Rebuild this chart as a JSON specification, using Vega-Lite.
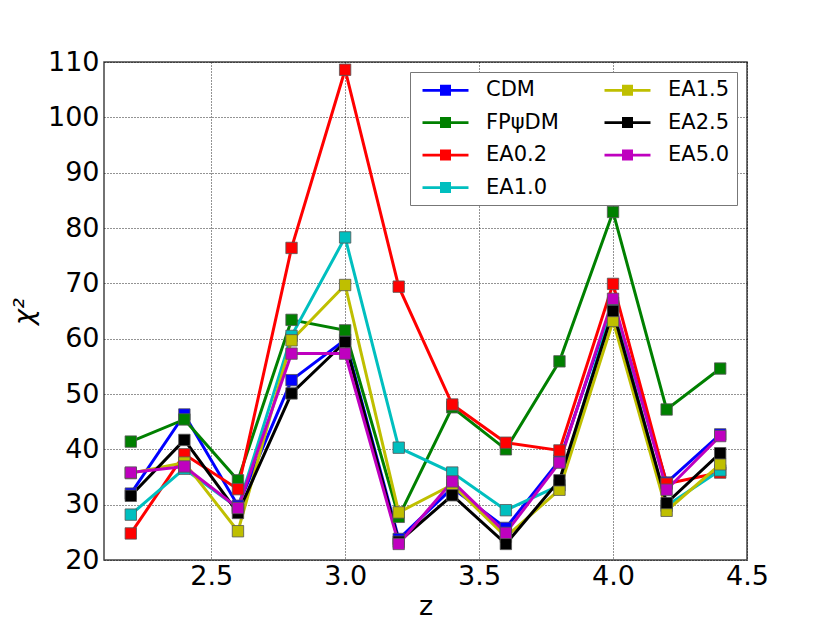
{
  "$schema": "https://vega.github.io/schema/vega-lite/v6.json",
  "width": 643,
  "height": 498,
  "autosize": "none",
  "padding": {"left": 104, "top": 62, "right": 83, "bottom": 63},
  "background": "white",
  "data": {
    "values": [
      {"z": 2.2, "series": "CDM", "chi2": 32.0},
      {"z": 2.4, "series": "CDM", "chi2": 46.3},
      {"z": 2.6, "series": "CDM", "chi2": 29.8},
      {"z": 2.8, "series": "CDM", "chi2": 52.5},
      {"z": 3.0, "series": "CDM", "chi2": 59.8},
      {"z": 3.2, "series": "CDM", "chi2": 23.8},
      {"z": 3.4, "series": "CDM", "chi2": 33.0},
      {"z": 3.6, "series": "CDM", "chi2": 25.8},
      {"z": 3.8, "series": "CDM", "chi2": 38.0},
      {"z": 4.0, "series": "CDM", "chi2": 66.5},
      {"z": 4.2, "series": "CDM", "chi2": 34.0},
      {"z": 4.4, "series": "CDM", "chi2": 42.7},
      {"z": 2.2, "series": "FPψDM", "chi2": 41.4},
      {"z": 2.4, "series": "FPψDM", "chi2": 45.4},
      {"z": 2.6, "series": "FPψDM", "chi2": 34.4},
      {"z": 2.8, "series": "FPψDM", "chi2": 63.4},
      {"z": 3.0, "series": "FPψDM", "chi2": 61.5},
      {"z": 3.2, "series": "FPψDM", "chi2": 27.8},
      {"z": 3.4, "series": "FPψDM", "chi2": 47.6},
      {"z": 3.6, "series": "FPψDM", "chi2": 40.0},
      {"z": 3.8, "series": "FPψDM", "chi2": 55.9},
      {"z": 4.0, "series": "FPψDM", "chi2": 82.9},
      {"z": 4.2, "series": "FPψDM", "chi2": 47.2},
      {"z": 4.4, "series": "FPψDM", "chi2": 54.6},
      {"z": 2.2, "series": "EA0.2", "chi2": 24.8},
      {"z": 2.4, "series": "EA0.2", "chi2": 39.1},
      {"z": 2.6, "series": "EA0.2", "chi2": 32.8},
      {"z": 2.8, "series": "EA0.2", "chi2": 76.4},
      {"z": 3.0, "series": "EA0.2", "chi2": 108.6},
      {"z": 3.2, "series": "EA0.2", "chi2": 69.4},
      {"z": 3.4, "series": "EA0.2", "chi2": 48.1},
      {"z": 3.6, "series": "EA0.2", "chi2": 41.2},
      {"z": 3.8, "series": "EA0.2", "chi2": 39.8},
      {"z": 4.0, "series": "EA0.2", "chi2": 69.9},
      {"z": 4.2, "series": "EA0.2", "chi2": 33.8},
      {"z": 4.4, "series": "EA0.2", "chi2": 35.8},
      {"z": 2.2, "series": "EA1.0", "chi2": 28.2},
      {"z": 2.4, "series": "EA1.0", "chi2": 36.5},
      {"z": 2.6, "series": "EA1.0", "chi2": 29.4},
      {"z": 2.8, "series": "EA1.0", "chi2": 60.5},
      {"z": 3.0, "series": "EA1.0", "chi2": 78.3},
      {"z": 3.2, "series": "EA1.0", "chi2": 40.3},
      {"z": 3.4, "series": "EA1.0", "chi2": 35.8},
      {"z": 3.6, "series": "EA1.0", "chi2": 29.0},
      {"z": 3.8, "series": "EA1.0", "chi2": 33.5},
      {"z": 4.0, "series": "EA1.0", "chi2": 66.0},
      {"z": 4.2, "series": "EA1.0", "chi2": 29.8},
      {"z": 4.4, "series": "EA1.0", "chi2": 36.2},
      {"z": 2.2, "series": "EA1.5", "chi2": 35.7},
      {"z": 2.4, "series": "EA1.5", "chi2": 37.6},
      {"z": 2.6, "series": "EA1.5", "chi2": 25.2},
      {"z": 2.8, "series": "EA1.5", "chi2": 59.7},
      {"z": 3.0, "series": "EA1.5", "chi2": 69.7},
      {"z": 3.2, "series": "EA1.5", "chi2": 28.6},
      {"z": 3.4, "series": "EA1.5", "chi2": 33.6},
      {"z": 3.6, "series": "EA1.5", "chi2": 24.2},
      {"z": 3.8, "series": "EA1.5", "chi2": 32.7},
      {"z": 4.0, "series": "EA1.5", "chi2": 63.2},
      {"z": 4.2, "series": "EA1.5", "chi2": 28.9},
      {"z": 4.4, "series": "EA1.5", "chi2": 37.3},
      {"z": 2.2, "series": "EA2.5", "chi2": 31.6},
      {"z": 2.4, "series": "EA2.5", "chi2": 41.7},
      {"z": 2.6, "series": "EA2.5", "chi2": 28.5},
      {"z": 2.8, "series": "EA2.5", "chi2": 50.1},
      {"z": 3.0, "series": "EA2.5", "chi2": 59.4},
      {"z": 3.2, "series": "EA2.5", "chi2": 23.3},
      {"z": 3.4, "series": "EA2.5", "chi2": 31.7},
      {"z": 3.6, "series": "EA2.5", "chi2": 22.9},
      {"z": 3.8, "series": "EA2.5", "chi2": 34.4},
      {"z": 4.0, "series": "EA2.5", "chi2": 65.0},
      {"z": 4.2, "series": "EA2.5", "chi2": 30.3},
      {"z": 4.4, "series": "EA2.5", "chi2": 39.3},
      {"z": 2.2, "series": "EA5.0", "chi2": 35.8},
      {"z": 2.4, "series": "EA5.0", "chi2": 36.9},
      {"z": 2.6, "series": "EA5.0", "chi2": 29.4},
      {"z": 2.8, "series": "EA5.0", "chi2": 57.3},
      {"z": 3.0, "series": "EA5.0", "chi2": 57.3},
      {"z": 3.2, "series": "EA5.0", "chi2": 22.9},
      {"z": 3.4, "series": "EA5.0", "chi2": 34.2},
      {"z": 3.6, "series": "EA5.0", "chi2": 24.9},
      {"z": 3.8, "series": "EA5.0", "chi2": 37.6},
      {"z": 4.0, "series": "EA5.0", "chi2": 67.2},
      {"z": 4.2, "series": "EA5.0", "chi2": 32.7},
      {"z": 4.4, "series": "EA5.0", "chi2": 42.4}
    ]
  },
  "mark": {
    "type": "line",
    "strokeWidth": 3,
    "point": {"shape": "square", "filled": true, "size": 130, "stroke": "#555555", "strokeWidth": 0.8}
  },
  "encoding": {
    "x": {
      "field": "z",
      "type": "quantitative",
      "title": "z",
      "scale": {"domain": [2.1, 4.5], "nice": false, "zero": false},
      "axis": {
        "values": [2.5, 3.0, 3.5, 4.0, 4.5],
        "format": ".1f",
        "labelPadding": 3.5,
        "titlePadding": 4
      }
    },
    "y": {
      "field": "chi2",
      "type": "quantitative",
      "title": "χ²",
      "scale": {"domain": [20, 110], "nice": false, "zero": false},
      "axis": {
        "values": [20, 30, 40, 50, 60, 70, 80, 90, 100, 110],
        "labelPadding": 5,
        "titlePadding": 9,
        "titleFontStyle": "italic"
      }
    },
    "color": {
      "field": "series",
      "type": "nominal",
      "scale": {
        "domain": ["CDM", "FPψDM", "EA0.2", "EA1.0", "EA1.5", "EA2.5", "EA5.0"],
        "range": ["#0000ff", "#008000", "#ff0000", "#00bfbf", "#bfbf00", "#000000", "#bf00bf"]
      },
      "legend": {
        "title": null,
        "orient": "top-right",
        "offset": 10,
        "columns": 2,
        "columnPadding": 40,
        "rowPadding": 10.5,
        "padding": 7.5,
        "fillColor": "white",
        "strokeColor": "#777777",
        "cornerRadius": 0,
        "symbolType": "M-4.18,-0.25H4.18V0.25H-4.18Z M-1,-1H1V1H-1Z",
        "symbolSize": 121,
        "symbolStrokeWidth": 0,
        "symbolOffset": 17.5,
        "labelOffset": 30,
        "labelAlign": "left",
        "labelFontSize": 21,
        "labelFont": "DejaVu Sans",
        "labelColor": "black",
        "labelLimit": 200,
        "encode": {
          "symbols": {
            "update": {
              "fill": {"scale": "color", "field": "value"}
            }
          }
        }
      }
    }
  },
  "config": {
    "font": "DejaVu Sans",
    "view": {"stroke": "#444444", "strokeWidth": 1.5},
    "axis": {
      "domain": false,
      "ticks": false,
      "tickSize": 0,
      "grid": true,
      "gridColor": "#000000",
      "gridDash": [1, 2],
      "gridWidth": 1,
      "gridOpacity": 0.85,
      "labelFont": "DejaVu Sans",
      "labelFontSize": 27,
      "labelColor": "black",
      "labelFlush": false,
      "labelOverlap": false,
      "labelBound": false,
      "titleFont": "DejaVu Sans",
      "titleFontSize": 27,
      "titleFontWeight": "normal",
      "titleColor": "black"
    }
  }
}
